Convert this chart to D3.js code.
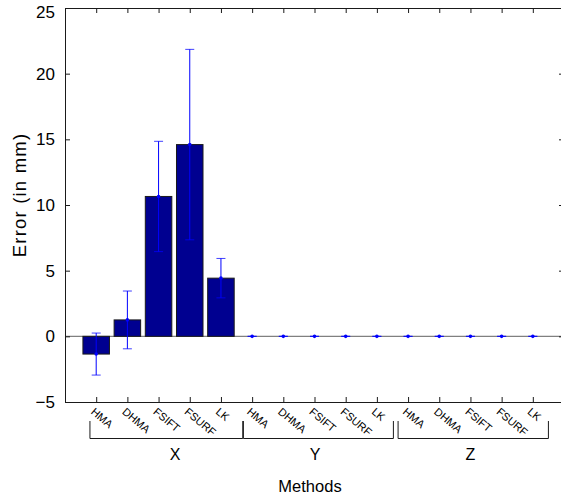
<!DOCTYPE html>
<html>
<head>
<meta charset="utf-8">
<script src="https://cdn.jsdelivr.net/npm/d3@7"></script>
<style>
  html, body { margin: 0; padding: 0; background: #fff; }
  svg { display: block; font-family: "Liberation Sans", Arial, sans-serif; }
</style>
</head>
<body>
<svg id="chart" width="561" height="496"></svg>
<script>
// ---- data ----
const groups = ["X", "Y", "Z"];
const methods = ["HMA", "DHMA", "FSIFT", "FSURF", "LK"];
const meanX = [-1.35, 1.25, 10.65, 14.6, 4.43];
const errX  = [1.6, 2.2, 4.2, 7.25, 1.5];
const meanY = [0, 0, 0, 0, 0];
const errY  = [0, 0, 0, 0, 0];
const meanZ = [0, 0, 0, 0, 0];
const errZ  = [0, 0, 0, 0, 0];
const yTicks = [-5, 0, 5, 10, 15, 20, 25];
const bracketStart = [0.8, 5.72, 10.68];
const bracketEnd   = [5.7, 10.53, 15.5];
const groupLabelPos = [3.53, 8.02, 13.0];

const means = [meanX, meanY, meanZ];
const errs = [errX, errY, errZ];
const data = [];
groups.forEach((g, gi) => methods.forEach((m, mi) => {
  data.push({ group: g, method: m, pos: gi * methods.length + mi + 1, mean: means[gi][mi], err: errs[gi][mi] });
}));

// ---- layout ----
const mLeft = 65, mRight = 564, mTop = 8, mBottom = 402;
const svg = d3.select("#chart");
const x = d3.scaleLinear().domain([0, 16]).range([mLeft, mRight]);
const y = d3.scaleLinear().domain([-5, 25]).range([mBottom, mTop]);
const barW = 0.85;

// zero line
svg.append("line")
  .attr("x1", mLeft).attr("x2", mRight)
  .attr("y1", y(0)).attr("y2", y(0))
  .attr("stroke", "#808080").attr("stroke-width", 1.2);

// bars (only non-zero)
svg.append("g").selectAll("rect")
  .data(data.filter(d => d.mean !== 0))
  .join("rect")
  .attr("x", d => x(d.pos - barW / 2))
  .attr("width", d => x(barW) - x(0))
  .attr("y", d => y(Math.max(0, d.mean)))
  .attr("height", d => Math.abs(y(d.mean) - y(0)))
  .attr("fill", "#000090")
  .attr("stroke", "#1a1a1a")
  .attr("stroke-width", 1);

// error bars
const eb = svg.append("g").attr("stroke", "#0000ff").attr("stroke-width", 1);
const capW = 4.5;
data.forEach(d => {
  const cx = x(d.pos);
  eb.append("line").attr("x1", cx).attr("x2", cx)
    .attr("y1", y(d.mean - d.err)).attr("y2", y(d.mean + d.err));
  [d.mean - d.err, d.mean + d.err].forEach(v => {
    eb.append("line").attr("x1", cx - capW).attr("x2", cx + capW)
      .attr("y1", y(v)).attr("y2", y(v)).attr("stroke-opacity", 0.75);
  });
  svg.append("circle").attr("cx", cx).attr("cy", y(d.mean)).attr("r", 1.8).attr("fill", "#0000ff");
});

// axes box
const axisColor = "#1a1a1a";
const yAxisL = d3.axisLeft(y).tickValues(yTicks).tickSize(-5).tickPadding(10);
const gL = svg.append("g").attr("transform", `translate(${mLeft},0)`).call(yAxisL);
const yAxisR = d3.axisRight(y).tickValues(yTicks).tickSize(-5).tickFormat("");
const gR = svg.append("g").attr("transform", `translate(${mRight},0)`).call(yAxisR);
const xAxisB = d3.axisBottom(x).tickValues(data.map(d => d.pos)).tickSize(-5).tickFormat("");
const gB = svg.append("g").attr("transform", `translate(0,${mBottom})`).call(xAxisB);
const xAxisT = d3.axisTop(x).tickValues(data.map(d => d.pos)).tickSize(-5).tickFormat("");
const gT = svg.append("g").attr("transform", `translate(0,${mTop})`).call(xAxisT);
[gL, gR, gB, gT].forEach(g => {
  g.select(".domain").attr("stroke", axisColor).attr("stroke-width", 1);
  g.selectAll(".tick line").attr("stroke", axisColor);
});
gL.selectAll(".tick text")
  .attr("font-size", 17).attr("fill", "#000")
  .attr("font-family", "Liberation Sans, Arial, sans-serif");
gL.selectAll(".tick text").filter(d => d === 25).attr("dy", "0.55em");

// rotated method labels
svg.append("g").selectAll("text")
  .data(data)
  .join("text")
  .attr("transform", d => `translate(${x(d.pos) - 1},${mBottom + 5}) rotate(40)`)
  .attr("text-anchor", "start")
  .attr("dy", "0.7em")
  .attr("font-size", 11)
  .attr("fill", "#000")
  .text(d => d.method);

// group brackets
const br = svg.append("g").attr("stroke", "#1a1a1a").attr("fill", "none").attr("stroke-width", 1);
const brTop = 421, brBot = 438.5;
groups.forEach((g, i) => {
  const x0 = x(bracketStart[i]), x1 = x(bracketEnd[i]);
  br.append("path").attr("d", `M${x0},${brTop}V${brBot}H${x1}V${brTop}`);
  svg.append("text").attr("x", x(groupLabelPos[i])).attr("y", 460)
    .attr("text-anchor", "middle").attr("font-size", 16).attr("fill", "#000").text(g);
});

// axis titles
svg.append("text").attr("x", 310).attr("y", 492)
  .attr("text-anchor", "middle").attr("font-size", 16.5).attr("fill", "#000").text("Methods");
svg.append("text").attr("transform", `translate(26,${(mTop + mBottom) / 2 - 10}) rotate(-90)`)
  .attr("text-anchor", "middle").attr("font-size", 18.5).attr("letter-spacing", 1.2)
  .attr("fill", "#000").text("Error (in mm)");
</script>
</body>
</html>
